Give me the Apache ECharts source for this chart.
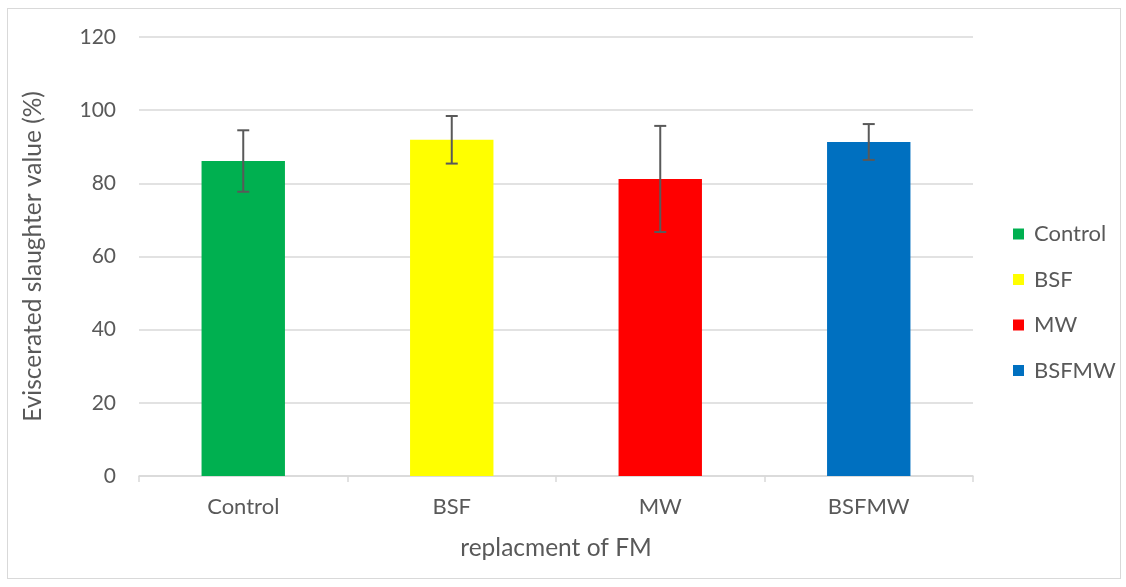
<!DOCTYPE html>
<html>
<head>
<meta charset="utf-8">
<script src="https://cdn.jsdelivr.net/npm/echarts@6/dist/echarts.min.js"></script>
<style>
html,body{margin:0;padding:0;background:#fff;}
#frame{position:absolute;left:7px;top:8px;width:1114px;height:571px;border:1px solid #d9d9d9;box-sizing:border-box;}
#c{position:absolute;left:0;top:0;width:1126px;height:587px;}
</style>
</head>
<body>
<div id="frame"></div>
<div id="c"></div>
<script>
const categories = ['Control', 'BSF', 'MW', 'BSFMW'];
const means = [86.1, 91.9, 81.2, 91.3];
const errors = [8.4, 6.5, 14.5, 4.9];
const colors = ['#00b050', '#ffff00', '#ff0000', '#0070c0'];
const yTicks = [0, 20, 40, 60, 80, 100, 120];

const FONT = 'Lato, Open Sans, sans-serif';
const chart = echarts.init(document.getElementById('c'));

const barSeries = categories.map((name, i) => ({
  name: name,
  type: 'bar',
  stack: 'all',
  barWidth: '40%',
  itemStyle: { color: colors[i] },
  data: categories.map((_, j) => (j === i ? means[i] : '-'))
}));

const errSeries = {
  type: 'custom',
  silent: true,
  z: 10,
  data: categories.map((c, i) => [i, means[i] - errors[i], means[i] + errors[i]]),
  renderItem: function (params, api) {
    const x = api.value(0);
    const lo = api.coord([x, api.value(1)]);
    const hi = api.coord([x, api.value(2)]);
    const hw = 6;
    const style = { stroke: '#595959', lineWidth: 2, fill: null };
    return {
      type: 'group',
      children: [
        { type: 'line', shape: { x1: lo[0], y1: lo[1], x2: hi[0], y2: hi[1] }, style: style },
        { type: 'line', shape: { x1: lo[0] - hw, y1: lo[1], x2: lo[0] + hw, y2: lo[1] }, style: style },
        { type: 'line', shape: { x1: hi[0] - hw, y1: hi[1], x2: hi[0] + hw, y2: hi[1] }, style: style }
      ]
    };
  }
};

chart.setOption({
  animation: false,
  backgroundColor: 'transparent',
  grid: { left: 139, right: 153, top: 37, bottom: 111 },
  legend: {
    orient: 'vertical',
    left: 1013,
    top: 223,
    padding: 0,
    itemWidth: 11,
    itemHeight: 11,
    itemGap: 23.5,
    icon: 'rect',
    textStyle: { fontFamily: FONT, fontSize: 22, lineHeight: 20, color: '#595959', padding: [0, 0, 0, 5] },
    data: categories
  },
  xAxis: {
    type: 'category',
    data: categories,
    name: 'replacment of FM',
    nameLocation: 'middle',
    nameGap: 60,
    nameTextStyle: { fontFamily: FONT, fontSize: 24.5, color: '#595959' },
    axisLine: { lineStyle: { color: '#d9d9d9', width: 1.5 } },
    axisTick: { show: true, length: 6, lineStyle: { color: '#d9d9d9', width: 1.5 } },
    axisLabel: { fontFamily: FONT, fontSize: 22, color: '#595959', margin: 20 }
  },
  yAxis: {
    type: 'value',
    min: 0,
    max: 120,
    interval: 20,
    name: 'Eviscerated slaughter value (%)',
    nameLocation: 'middle',
    nameGap: 93,
    nameTextStyle: { fontFamily: FONT, fontSize: 24.5, color: '#595959' },
    axisLine: { show: false },
    axisTick: { show: false },
    splitLine: { lineStyle: { color: '#d9d9d9', width: 1.5 } },
    axisLabel: {
      fontFamily: FONT, fontSize: 21, color: '#595959', margin: 23,
      formatter: v => (yTicks.indexOf(v) >= 0 ? String(v) : '')
    }
  },
  series: barSeries.concat([errSeries])
});
</script>
</body>
</html>
